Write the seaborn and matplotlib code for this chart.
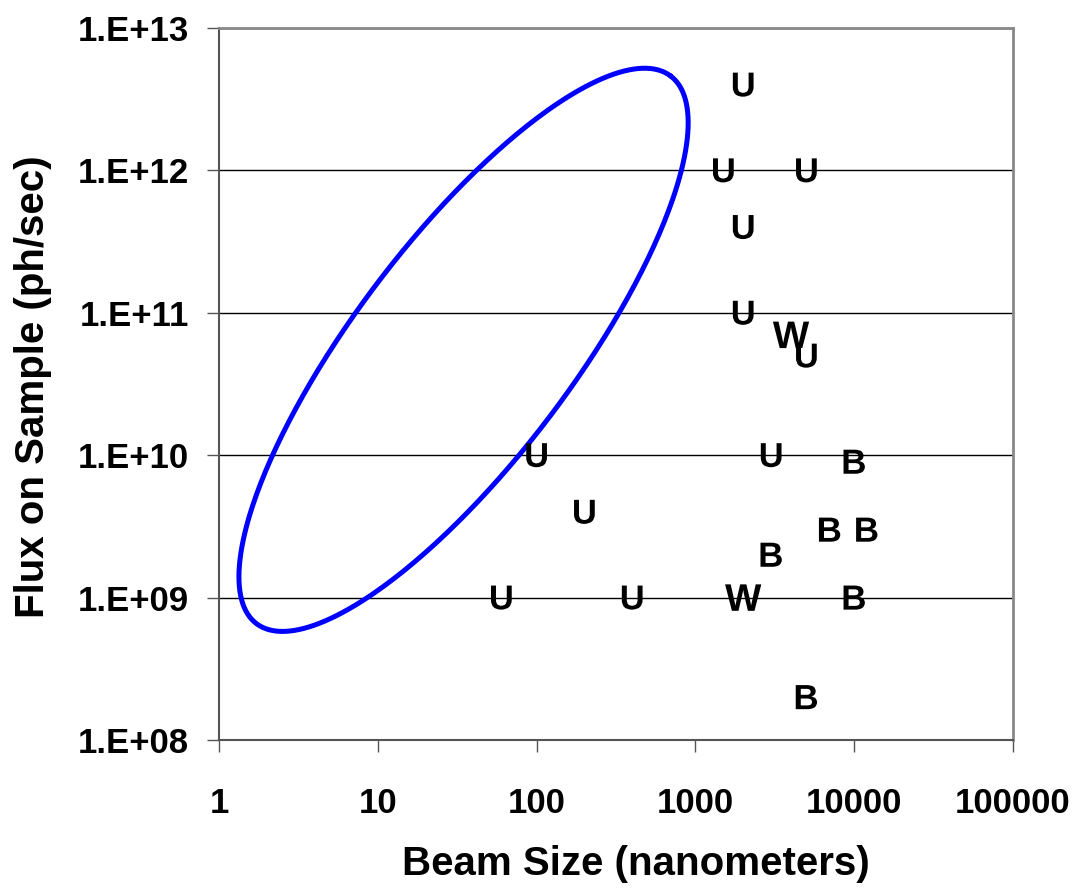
import numpy as np
import pandas as pd
import matplotlib
matplotlib.use("Agg")
import matplotlib.pyplot as plt
from matplotlib.ticker import FixedLocator, FixedFormatter, NullLocator
import seaborn as sns

# ---------------- data ----------------
beam_size = [2000, 1500, 5000, 2000, 2000, 4000, 5000, 100, 3000, 10000,
             200, 7000, 12000, 3000, 60, 400, 2000, 10000, 5000]
flux = [4e12, 1e12, 1e12, 4e11, 1e11, 7e10, 5e10, 1e10, 1e10, 9e9,
        4e9, 3e9, 3e9, 2e9, 1e9, 1e9, 1e9, 1e9, 2e8]
source = ["U", "U", "U", "U", "U", "W", "U", "U", "U", "B",
          "U", "B", "B", "B", "U", "U", "W", "B", "B"]

x_ticks = [1, 10, 100, 1000, 10000, 100000]
x_tick_labels = ["1", "10", "100", "1000", "10000", "100000"]
y_ticks = [1e8, 1e9, 1e10, 1e11, 1e12, 1e13]
y_tick_labels = ["1.E+08", "1.E+09", "1.E+10", "1.E+11", "1.E+12", "1.E+13"]

# target region ellipse (in log10 space): centre and axis vectors
ell_center = (1.54, 10.74)
ell_cos_vec = (1.304, 1.923)
ell_sin_vec = (-0.548, 0.461)

# ---------------- style ----------------
sns.set_theme(style="white")
plt.rcParams["font.family"] = ["Liberation Sans", "DejaVu Sans"]
plt.rcParams["font.weight"] = "bold"
plt.rcParams["mathtext.fontset"] = "custom"
plt.rcParams["mathtext.bf"] = "Liberation Sans:bold"
plt.rcParams["mathtext.rm"] = "Liberation Sans:bold"

fig = plt.figure(figsize=(10.82, 8.91), dpi=100)
ax = fig.add_axes([219 / 1082, 1 - 740 / 891, 794 / 1082, 712 / 891])

# ellipse
t = np.linspace(0, 2 * np.pi, 400)
lx = ell_center[0] + ell_cos_vec[0] * np.cos(t) + ell_sin_vec[0] * np.sin(t)
ly = ell_center[1] + ell_cos_vec[1] * np.cos(t) + ell_sin_vec[1] * np.sin(t)
ell_df = pd.DataFrame({"x": 10 ** lx, "y": 10 ** ly})

df = pd.DataFrame({"beam": beam_size, "flux": flux, "src": source})

ax.set_xscale("log")
ax.set_yscale("log")

sns.lineplot(data=ell_df, x="x", y="y", sort=False, estimator=None,
             color="#0000FF", linewidth=3.6, ax=ax)

sns.scatterplot(data=df, x="beam", y="flux", style="src", size="src",
                markers={"U": r"$\mathbf{U}$", "W": r"$\mathbf{W}$", "B": r"$\mathbf{B}$"},
                sizes={"U": 300, "W": 680, "B": 300},
                color="black", edgecolor="none", linewidth=0,
                legend=False, ax=ax, zorder=5)

ax.set_xlim(1, 1e5)
ax.set_ylim(1e8, 1e13)

ax.xaxis.set_major_locator(FixedLocator(x_ticks))
ax.xaxis.set_major_formatter(FixedFormatter(x_tick_labels))
ax.xaxis.set_minor_locator(NullLocator())
ax.yaxis.set_major_locator(FixedLocator(y_ticks))
ax.yaxis.set_major_formatter(FixedFormatter(y_tick_labels))
ax.yaxis.set_minor_locator(NullLocator())

ax.grid(False)
ax.yaxis.grid(True, color="black", linewidth=1.0)
ax.set_axisbelow(True)

ax.tick_params(axis="both", which="major", direction="out", length=8.6,
               width=1.0, color="#555555", labelsize=25, labelcolor="black",
               bottom=True, left=True, top=False, right=False)
ax.tick_params(axis="x", pad=25)
ax.tick_params(axis="y", pad=13)
for lab in ax.get_xticklabels() + ax.get_yticklabels():
    lab.set_fontweight("bold")

for side in ["left", "bottom"]:
    ax.spines[side].set_color("#555555")
    ax.spines[side].set_linewidth(1.5)
for side in ["top", "right"]:
    ax.spines[side].set_visible(True)
    ax.spines[side].set_color("#888888")
    ax.spines[side].set_linewidth(2)

ax.set_xlabel("Beam Size (nanometers)", fontsize=29, fontweight="bold", color="black")
ax.set_ylabel("Flux on Sample (ph/sec)", fontsize=29, fontweight="bold", color="black")
ax.xaxis.label.set_va("baseline")
ax.xaxis.set_label_coords(0.525, -0.19)
ax.yaxis.label.set_va("baseline")
ax.yaxis.set_label_coords(-0.2205, 0.496)

fig.savefig("out.png", dpi=100, facecolor="white")
